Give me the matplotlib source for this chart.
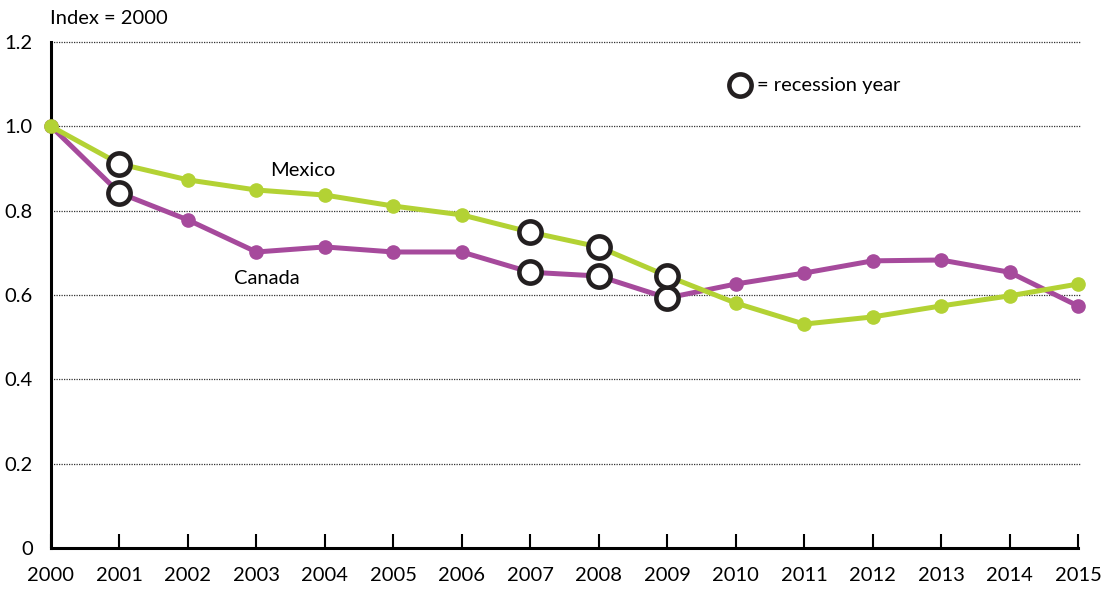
import matplotlib
matplotlib.use("Agg")
import matplotlib.pyplot as plt

years = list(range(2000, 2016))
mexico = [1.0, 0.911, 0.873, 0.849, 0.837, 0.811, 0.790, 0.749, 0.714,
          0.645, 0.581, 0.531, 0.548, 0.574, 0.598, 0.626]
canada = [1.0, 0.842, 0.778, 0.702, 0.714, 0.702, 0.702, 0.654, 0.645,
          0.593, 0.626, 0.652, 0.681, 0.683, 0.654, 0.574]
recession_years = [2001, 2007, 2008, 2009]
y_ticks = [0, 0.2, 0.4, 0.6, 0.8, 1.0, 1.2]
y_labels = ["0", "0.2", "0.4", "0.6", "0.8", "1.0", "1.2"]

GREEN = "#b3d234"
PURPLE = "#a64a9c"
RING = "#231f20"

plt.rcParams["font.family"] = ["Lato", "DejaVu Sans"]
FS = 14.5

W, H = 1102, 590
fig = plt.figure(figsize=(W / 100, H / 100), dpi=100)
ax = fig.add_axes([51 / W, 42 / H, (1078 - 51) / W, (548 - 42) / H])

ax.set_xlim(2000, 2015)
ax.set_ylim(0, 1.2)

for v in y_ticks[1:]:
    ax.plot([2000, 2015.03], [v, v], ls=(0, (1, 1)), color="#333333",
            lw=0.9, clip_on=False, zorder=1)

ax.plot(years, canada, color=PURPLE, lw=3.6, marker="o", ms=9.5,
        clip_on=False, zorder=2)
ax.plot(years, mexico, color=GREEN, lw=3.6, marker="o", ms=9.5,
        clip_on=False, zorder=3)

ring = dict(marker="o", ms=16, mfc="white", mec=RING, mew=3.3, ls="none")
can_rec = [canada[years.index(y)] for y in recession_years]
mex_rec = [mexico[years.index(y)] for y in recession_years]
ax.plot(recession_years, can_rec, zorder=5, **ring)
ax.plot(recession_years, mex_rec, zorder=6, **ring)

for s in ["top", "right"]:
    ax.spines[s].set_visible(False)
ax.spines["left"].set_linewidth(2.2)
ax.spines["bottom"].set_linewidth(2.2)

ax.set_yticks(y_ticks)
ax.set_yticklabels(y_labels, fontsize=FS)
ax.tick_params(axis="y", length=0, pad=13)
ax.set_xticks(years)
ax.set_xticklabels([str(y) for y in years], fontsize=FS)
ax.tick_params(axis="x", direction="in", length=10, width=1.5, pad=14)

ax.text(2003.68, 0.895, "Mexico", fontsize=FS, ha="center", va="center")
ax.text(2003.15, 0.64, "Canada", fontsize=FS, ha="center", va="center")

# recession legend
ax.plot([2000 + (740 - 51) / (1027 / 15)], [(548 - 85) / (506 / 1.2)],
        zorder=6, **ring)
fig.text(757 / W, 1 - 85 / H, "= recession year", fontsize=FS,
         ha="left", va="center")

fig.text(50 / W, 1 - 18 / H, "Index = 2000", fontsize=FS, ha="left",
         va="center")

fig.savefig("out.png", dpi=100)
